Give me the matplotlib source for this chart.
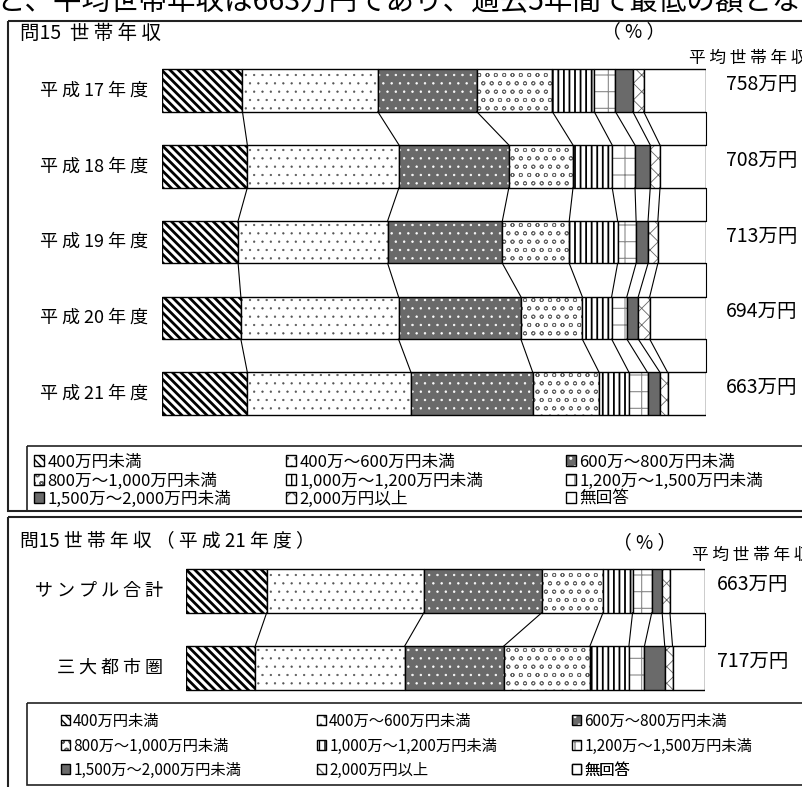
import matplotlib
matplotlib.use('Agg')
import matplotlib.pyplot as plt
from matplotlib.patches import Rectangle
from matplotlib.legend_handler import HandlerTuple
import numpy as np

plt.rcParams['font.family'] = ['Noto Sans CJK JP', 'DejaVu Sans']

# ---------------- data ----------------
categories = ['400万円未満', '400万～600万円未満', '600万～800万円未満',
              '800万～1,000万円未満', '1,000万～1,200万円未満', '1,200万～1,500万円未満',
              '1,500万～2,000万円未満', '2,000万円以上', '無回答']

years = ['平成17年度', '平成18年度', '平成19年度', '平成20年度', '平成21年度']
h17 = [14.8, 24.9, 18.2, 13.9, 7.7, 3.9, 3.2, 2.0, 11.4]
h18 = [15.7, 27.9, 20.2, 11.8, 7.2, 4.2, 2.8, 1.8, 8.4]
h19 = [14.0, 27.5, 21.1, 12.3, 8.9, 3.4, 2.2, 1.8, 8.8]
h20 = [14.5, 29.0, 22.5, 11.3, 5.4, 2.8, 2.1, 2.1, 10.3]
h21 = [15.7, 30.1, 22.4, 12.2, 5.5, 3.4, 2.3, 1.4, 7.0]
year_avg = ['758万円', '708万円', '713万円', '694万円', '663万円']

areas = ['サンプル合計', '三大都市圏']
sample_total = [15.6, 30.3, 22.7, 11.8, 5.7, 3.7, 2.0, 1.5, 6.7]
metro3 = [13.4, 28.8, 19.1, 16.6, 7.5, 3.0, 3.9, 1.5, 6.2]
area_avg = ['663万円', '717万円']

top_title = '問15 世帯年収'
bottom_title = '問15 世帯年収（平成21年度）'
unit_label = '（ % ）'
avg_header = '平均世帯年収'
cut_text = 'と、平均世帯年収は663万円であり、過去5年間で最低の額とな'

# ---------------- styles ----------------
BS = chr(92)
styles = [
    dict(face='white', hatch=BS * 4, hc='black', hlw=2.0),
    dict(face='white', hatch='..', hc='#555555', hlw=0.4),
    dict(face='#6a6a6a', hatch='..', hc='white', hlw=0.5),
    dict(face='white', hatch='oo', hc='#666666', hlw=0.6),
    dict(face='white', hatch='|||', hc='black', hlw=1.3),
    dict(face='white', hatch='+', hc='#8a8a8a', hlw=0.8),
    dict(face='#6a6a6a', hatch=None, hc='#6a6a6a', hlw=0.5),
    dict(face='white', hatch='xx', hc='#666666', hlw=0.6),
    dict(face='white', hatch=None, hc='white', hlw=0.5),
]

W, H = 803, 787
fig = plt.figure(figsize=(W / 100, H / 100), dpi=100)
bg = fig.add_axes([0, 0, 1, 1])
bg.set_xlim(0, W)
bg.set_ylim(H, 0)
bg.axis('off')


def px_axes(x0, y0, x1, y1):
    return fig.add_axes([x0 / W, 1 - y1 / H, (x1 - x0) / W, (y1 - y0) / H])


def spaced(s):
    out = ''
    for i, ch in enumerate(s):
        prev = s[i - 1] if i > 0 else ''
        if i > 0 and not (ch.isdigit() and prev.isdigit()) and ch != ' ' and prev != ' ':
            out += ' '
        out += ch
    return out


def draw_panel(ax, data, bh):
    data = np.array(data, dtype=float)
    n = data.shape[0]
    y = np.arange(n)
    left = np.zeros(n)
    handles = []
    for k, st in enumerate(styles):
        vals = data[:, k]
        b1 = ax.barh(y, vals, left=left, height=bh, facecolor=st['face'],
                     edgecolor=st['hc'], linewidth=0, hatch=st['hatch'])
        for p in b1.patches:
            if hasattr(p, 'set_hatch_linewidth'):
                p.set_hatch_linewidth(st['hlw'])
        b2 = ax.barh(y, vals, left=left, height=bh, facecolor='none',
                     edgecolor='black', linewidth=1.0)
        handles.append((b1, b2))
        left += vals
    cum = np.cumsum(data, axis=1)
    for i in range(n - 1):
        for k in range(data.shape[1]):
            ax.plot([cum[i, k], cum[i + 1, k]], [i + bh / 2, i + 1 - bh / 2],
                    color='black', lw=0.8, clip_on=False)
    ax.set_xlim(0, 100)
    ax.set_ylim(n - 0.5, -0.5)
    ax.axis('off')
    return handles


order_rows = [[0, 1, 2], [3, 4, 5], [6, 7, 8]]


def place_legend(handles, colx, rowy, fs):
    for r, row in enumerate(order_rows):
        for c, k in enumerate(row):
            leg = bg.legend([handles[k]], [categories[k]], loc='center left',
                            bbox_to_anchor=(colx[c], rowy[r]), bbox_transform=bg.transData,
                            frameon=False, borderpad=0, borderaxespad=0,
                            handlelength=0.6, handleheight=0.6, handletextpad=0.2,
                            fontsize=fs, handler_map={tuple: HandlerTuple(ndivide=1, pad=0)})
            bg.add_artist(leg)


# cut-off text at top
bg.text(-4, 1, cut_text, fontsize=20.5, ha='left', va='center', clip_on=False)

# ---------------- top panel ----------------
bg.add_patch(Rectangle((8, 21), 810, 490, facecolor='none', edgecolor='#222222', lw=1.5))
bg.text(20, 33, '問15  ' + spaced('世帯年収'), fontsize=14, ha='left', va='center')
bg.text(634, 32, unit_label, fontsize=13.5, ha='center', va='center')
bg.text(689, 58, spaced(avg_header), fontsize=12, ha='left', va='center')

ax1 = px_axes(162, 52.6, 705.7, 431.6)
handles_top = draw_panel(ax1, [h17, h18, h19, h20, h21], 0.56)
centers_top = [52.6 + 75.8 * (i + 0.5) for i in range(len(years))]
for i, lab in enumerate(years):
    bg.text(148, centers_top[i], spaced(lab), fontsize=13, ha='right', va='center')
    bg.text(797, centers_top[i] - 6, year_avg[i], fontsize=14, ha='right', va='center')

bg.add_patch(Rectangle((27, 446), 790, 65, facecolor='none', edgecolor='#222222', lw=1.2))
place_legend(handles_top, [34, 286, 566], [462, 481, 499], 12)

# ---------------- bottom panel ----------------
bg.add_patch(Rectangle((8, 517), 810, 290, facecolor='none', edgecolor='#222222', lw=1.5))
bg.text(20, 541, '問15 ' + spaced('世帯年収（平成21年度）'), fontsize=13.5, ha='left', va='center')
bg.text(645, 543, unit_label, fontsize=13.5, ha='center', va='center')
bg.text(692, 555, spaced(avg_header), fontsize=12, ha='left', va='center')

ax2 = px_axes(185.7, 552, 704.7, 706.7)
handles_bot = draw_panel(ax2, [sample_total, metro3], 0.57)
centers_bot = [552 + 77.3 * (i + 0.5) for i in range(len(areas))]
for i, lab in enumerate(areas):
    bg.text(163, centers_bot[i], spaced(lab), fontsize=13, ha='right', va='center')
    bg.text(788, centers_bot[i] - 6, area_avg[i], fontsize=14, ha='right', va='center')

bg.add_patch(Rectangle((27, 703), 790, 82, facecolor='none', edgecolor='#222222', lw=1.2))
place_legend(handles_bot, [61, 317, 572], [721, 746, 770], 11)

fig.savefig('out.png', dpi=100)
